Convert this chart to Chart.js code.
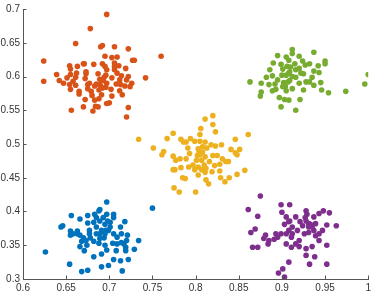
<!DOCTYPE html>
<html>
<head>
<meta charset="utf-8">
<script src="https://cdn.jsdelivr.net/npm/chart.js@4"></script>
<style>
  html, body { margin: 0; padding: 0; background: #fff; }
  #wrap { width: 374px; height: 294px; }
</style>
</head>
<body>
<div id="wrap"><canvas id="grafico" width="374" height="294"></canvas></div>
<script>
// Ejes
const xTicks = [0.6, 0.65, 0.7, 0.75, 0.8, 0.85, 0.9, 0.95, 1];
const yTicks = [0.3, 0.35, 0.4, 0.45, 0.5, 0.55, 0.6, 0.65, 0.7];

// Grupo 1 (azul)
const azulX = [0.626,0.654,0.668,0.675,0.691,0.699,0.715,0.722,0.705,0.713,0.682,0.691,0.671,0.697,0.708,0.719,0.729,0.719,0.734,0.750,0.697,0.689,0.656,0.666,0.675,0.683,0.688,0.697,0.705,0.718,0.644,0.646,0.655,0.663,0.675,0.682,0.689,0.695,0.701,0.713,0.655,0.663,0.670,0.677,0.685,0.691,0.695,0.699,0.709,0.714,0.721,0.668,0.674,0.682,0.688,0.695,0.704,0.714,0.720,0.678,0.694,0.666,0.685,
  0.693,0.698,0.701,0.696,0.689,0.705,0.677,0.673,0.689,0.709,0.658,0.666,0.685,0.705,0.717];
const azulY = [0.340,0.322,0.311,0.313,0.318,0.320,0.312,0.329,0.329,0.327,0.333,0.337,0.342,0.343,0.342,0.342,0.344,0.347,0.357,0.405,0.414,0.403,0.394,0.389,0.394,0.396,0.401,0.396,0.391,0.385,0.377,0.379,0.371,0.371,0.383,0.384,0.386,0.381,0.384,0.377,0.365,0.367,0.361,0.372,0.367,0.372,0.367,0.372,0.362,0.367,0.365,0.356,0.350,0.356,0.353,0.350,0.353,0.354,0.357,0.361,0.361,0.348,0.377,
  0.391,0.386,0.377,0.372,0.367,0.367,0.367,0.357,0.360,0.352,0.367,0.365,0.391,0.396,0.352];

// Grupo 2 (naranja)
const naranjaX = [0.697,0.678,0.661,0.624,0.624,0.760,0.742,0.690,0.692,0.706,0.722,0.695,0.709,0.703,0.727,0.729,0.670,0.682,0.692,0.706,0.711,0.654,0.655,0.663,0.673,0.719,0.639,0.655,0.673,0.687,0.696,0.706,0.709,0.651,0.661,0.672,0.689,0.694,0.703,0.714,0.720,0.726,0.642,0.647,0.654,0.661,0.677,0.685,0.689,0.697,0.708,0.713,0.718,0.655,0.675,0.679,0.688,0.692,0.702,0.712,0.665,0.680,0.691,0.703,0.715,0.672,0.683,0.697,0.700,0.670,0.684,0.687,0.656,0.681,0.722,0.720,
  0.695,0.697,0.693,0.690,0.696,0.683,0.662,0.658,0.722,0.724,0.671,0.706,0.712,0.675,0.665,0.688];
const naranjaY = [0.692,0.671,0.649,0.623,0.593,0.630,0.598,0.644,0.646,0.644,0.641,0.630,0.629,0.628,0.624,0.624,0.619,0.618,0.619,0.620,0.616,0.616,0.611,0.615,0.607,0.612,0.603,0.603,0.604,0.604,0.602,0.610,0.605,0.598,0.599,0.597,0.596,0.599,0.598,0.601,0.595,0.590,0.594,0.590,0.588,0.587,0.590,0.589,0.588,0.590,0.589,0.588,0.586,0.581,0.582,0.578,0.580,0.583,0.581,0.579,0.574,0.572,0.573,0.571,0.573,0.566,0.565,0.560,0.561,0.555,0.556,0.555,0.550,0.549,0.554,0.540,
  0.615,0.610,0.594,0.586,0.584,0.586,0.605,0.593,0.600,0.585,0.619,0.615,0.595,0.588,0.578,0.567];

// Grupo 3 (amarillo)
const amarilloX = [0.734,0.751,0.761,0.763,0.774,0.767,0.783,0.774,0.782,0.777,0.774,0.776,0.783,0.785,0.788,0.775,0.781,0.800,0.786,0.791,0.793,0.794,0.799,0.805,0.806,0.811,0.820,0.820,0.823,0.803,0.805,0.808,0.811,0.813,0.818,0.823,0.830,0.801,0.807,0.811,0.803,0.807,0.792,0.797,0.803,0.811,0.819,0.822,0.828,0.835,0.838,0.812,0.815,0.829,0.834,0.839,0.848,0.857,0.846,0.841,0.846,0.848,0.861,0.825,0.816,0.828,
  0.804,0.808,0.802,0.810,0.812,0.799,0.789,0.820,0.831,0.789,0.851,0.805];
const amarilloY = [0.507,0.494,0.484,0.489,0.516,0.508,0.507,0.482,0.478,0.476,0.462,0.462,0.465,0.450,0.449,0.435,0.429,0.429,0.503,0.494,0.486,0.508,0.504,0.514,0.523,0.537,0.542,0.529,0.518,0.493,0.484,0.496,0.503,0.494,0.499,0.497,0.499,0.476,0.476,0.481,0.466,0.462,0.466,0.469,0.454,0.458,0.459,0.468,0.470,0.474,0.474,0.447,0.441,0.450,0.444,0.450,0.455,0.461,0.507,0.492,0.487,0.484,0.514,0.483,0.474,0.460,
  0.488,0.488,0.483,0.469,0.464,0.462,0.478,0.483,0.478,0.503,0.492,0.504];

// Grupo 4 (morado)
const moradoX = [0.875,0.861,0.899,0.909,0.872,0.864,0.869,0.866,0.872,0.881,0.879,0.884,0.891,0.895,0.899,0.900,0.905,0.908,0.903,0.912,0.916,0.921,0.927,0.928,0.931,0.935,0.937,0.943,0.948,0.955,0.963,0.952,0.947,0.943,0.939,0.952,0.935,0.928,0.920,0.911,0.905,0.911,0.920,0.926,0.918,0.931,0.928,0.938,0.932,0.952,0.908,0.901,0.896,0.903,0.908,0.931,0.939,
  0.928,0.933,0.937,0.924,0.929,0.912,0.905,0.916,0.909,0.943,0.893,0.885];
const moradoY = [0.423,0.403,0.410,0.410,0.393,0.369,0.374,0.347,0.347,0.365,0.360,0.352,0.359,0.362,0.367,0.399,0.392,0.385,0.381,0.377,0.392,0.385,0.391,0.401,0.382,0.377,0.392,0.397,0.401,0.398,0.379,0.380,0.372,0.357,0.364,0.350,0.348,0.345,0.348,0.347,0.352,0.362,0.357,0.367,0.372,0.369,0.335,0.333,0.322,0.322,0.325,0.315,0.309,0.303,0.372,0.377,0.382,
  0.386,0.381,0.372,0.379,0.396,0.367,0.367,0.352,0.386,0.367,0.367,0.357];

// Grupo 5 (verde)
const verdeX = [0.863,0.895,0.905,0.912,0.912,0.920,0.937,0.890,0.899,0.908,0.915,0.924,0.932,0.950,0.950,0.942,0.901,0.910,0.920,0.927,0.937,0.882,0.889,0.900,0.908,0.916,0.925,0.935,0.876,0.885,0.892,0.902,0.909,0.920,0.928,0.945,0.893,0.905,0.912,0.925,0.946,0.954,0.876,0.889,0.875,0.897,0.903,0.908,0.921,0.899,0.916,0.974,0.996,1.000,0.905,0.904,
  0.906,0.909,0.912,0.907,0.916,0.922,0.895,0.901,0.932,0.937,0.943,0.886];
const verdeY = [0.592,0.631,0.629,0.640,0.634,0.630,0.636,0.620,0.618,0.624,0.619,0.623,0.619,0.623,0.619,0.616,0.611,0.614,0.612,0.617,0.608,0.599,0.601,0.602,0.605,0.599,0.604,0.599,0.590,0.588,0.589,0.591,0.594,0.590,0.592,0.591,0.581,0.579,0.582,0.580,0.580,0.576,0.577,0.579,0.571,0.569,0.566,0.565,0.566,0.555,0.550,0.578,0.589,0.603,0.602,0.585,
  0.615,0.607,0.600,0.592,0.610,0.605,0.595,0.585,0.592,0.587,0.606,0.610];

function puntos(xs, ys) {
  return xs.map((x, i) => ({ x: x, y: ys[i] }));
}

// Marcas de eje hacia dentro (estilo MATLAB)
const marcasDentro = {
  id: 'marcasDentro',
  afterDatasetsDraw(chart) {
    const { ctx, chartArea, scales } = chart;
    ctx.save();
    ctx.strokeStyle = '#555';
    ctx.lineWidth = 1;
    ctx.beginPath();
    xTicks.forEach(v => {
      const px = Math.round(scales.x.getPixelForValue(v)) + 0.5;
      ctx.moveTo(px, chartArea.bottom);
      ctx.lineTo(px, chartArea.bottom - 3.5);
    });
    yTicks.forEach(v => {
      const py = Math.round(scales.y.getPixelForValue(v)) + 0.5;
      ctx.moveTo(chartArea.left, py);
      ctx.lineTo(chartArea.left + 3.5, py);
    });
    ctx.stroke();
    ctx.restore();
  }
};

const serie = (datos, color) => ({
  data: datos,
  backgroundColor: color,
  borderColor: color,
  borderWidth: 0,
  pointRadius: 2.8,
  pointHoverRadius: 2.8
});

const fuente = { family: "'Liberation Sans', Arial, sans-serif", size: 10 };

new Chart(document.getElementById('grafico').getContext('2d'), {
  type: 'scatter',
  data: {
    datasets: [
      serie(puntos(azulX, azulY), '#0072BD'),
      serie(puntos(naranjaX, naranjaY), '#D95319'),
      serie(puntos(amarilloX, amarilloY), '#EDB120'),
      serie(puntos(moradoX, moradoY), '#7E2F8E'),
      serie(puntos(verdeX, verdeY), '#77AC30')
    ]
  },
  options: {
    responsive: false,
    animation: false,
    events: [],
    layout: { padding: { top: 5, right: 5, left: 0, bottom: 0 } },
    plugins: { legend: { display: false }, tooltip: { enabled: false } },
    scales: {
      x: {
        type: 'linear',
        min: 0.6, max: 1,
        afterBuildTicks: s => { s.ticks = xTicks.map(v => ({ value: v })); },
        afterFit: s => { s.height = 15; },
        ticks: { color: '#333', font: fuente, padding: 3, maxRotation: 0, autoSkip: false,
                 callback: v => String(+v.toFixed(2)) },
        grid: { display: false, drawTicks: false },
        border: { display: true, color: '#555', width: 1 }
      },
      y: {
        type: 'linear',
        min: 0.3, max: 0.7,
        afterBuildTicks: s => { s.ticks = yTicks.map(v => ({ value: v })); },
        afterFit: s => { s.width = 23; },
        ticks: { color: '#333', font: fuente, padding: 3, autoSkip: false,
                 callback: v => String(+v.toFixed(2)) },
        grid: { display: false, drawTicks: false },
        border: { display: true, color: '#555', width: 1 }
      }
    }
  },
  plugins: [marcasDentro]
});
</script>
</body>
</html>
